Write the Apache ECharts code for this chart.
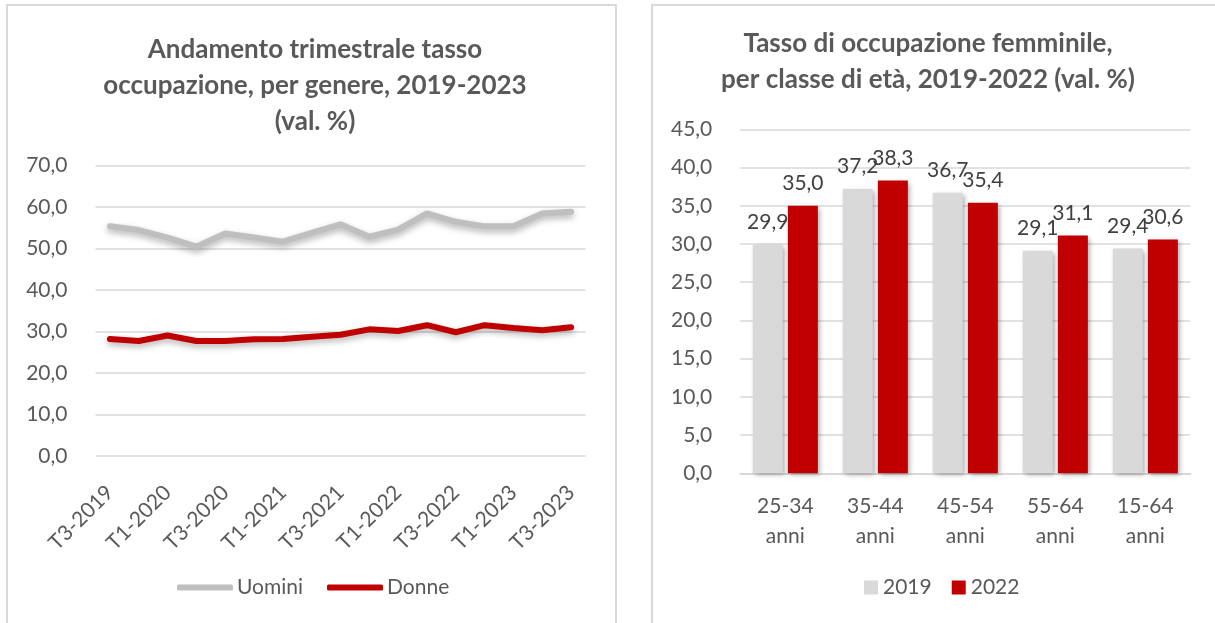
<!DOCTYPE html>
<html>
<head>
<meta charset="utf-8">
<script src="https://cdn.jsdelivr.net/npm/echarts@6/dist/echarts.min.js"></script>
<style>
  html, body { margin: 0; padding: 0; background: #fff; width: 1215px; height: 623px; overflow: hidden; }
  .panel { position: absolute; border: 2px solid #d9d9d9; background: #fff; }
  #left { left: 6px; top: 4px; width: 607px; height: 640px; }
  #right { left: 651px; top: 4px; width: 600px; height: 640px; }
</style>
</head>
<body>
<div id="left" class="panel"></div>
<div id="right" class="panel"></div>
<script>
// ---- Left chart data ----
const quarters = ['T3-2019','T4-2019','T1-2020','T2-2020','T3-2020','T4-2020','T1-2021','T2-2021','T3-2021','T4-2021','T1-2022','T2-2022','T3-2022','T4-2022','T1-2023','T2-2023','T3-2023'];
const uomini = [55.3, 54.4, 52.6, 50.4, 53.6, 52.6, 51.6, 53.7, 55.8, 52.8, 54.5, 58.4, 56.4, 55.3, 55.3, 58.4, 58.8];
const donne  = [28.2, 27.7, 29.0, 27.7, 27.7, 28.1, 28.2, 28.7, 29.2, 30.5, 30.1, 31.5, 29.8, 31.5, 30.8, 30.3, 31.0];
const leftTitle = 'Andamento trimestrale tasso\noccupazione, per genere, 2019-2023\n(val. %)';

// ---- Right chart data ----
const ageClasses = ['25-34\nanni', '35-44\nanni', '45-54\nanni', '55-64\nanni', '15-64\nanni'];
const val2019 = [29.9, 37.2, 36.7, 29.1, 29.4];
const val2022 = [35.0, 38.3, 35.4, 31.1, 30.6];
const rightTitle = 'Tasso di occupazione femminile,\nper classe di età, 2019-2022 (val. %)';

const FONT = 'Lato, "Liberation Sans", sans-serif';
const TXT = '#595959';
const FS = 21;
const fmt = v => Number(v).toFixed(1).replace('.', ',');

const left = echarts.init(document.getElementById('left'), null, { renderer: 'canvas' });
left.setOption({
  animation: false,
  textStyle: { fontFamily: FONT },
  title: {
    text: leftTitle, left: 302, top: 21, textAlign: 'center',
    textStyle: { fontFamily: FONT, fontWeight: 'bold', fontSize: 26, color: TXT, lineHeight: 36 }
  },
  legend: {
    bottom: 43, left: 164, itemWidth: 56, itemHeight: 6, itemGap: 24, icon: 'roundRect',
    textStyle: { fontFamily: FONT, fontSize: FS, color: TXT, padding: [0, 0, 0, -1] },
    data: ['Uomini', 'Donne']
  },
  grid: { left: 87.5, top: 159.3, width: 490, height: 290.7, containLabel: false },
  xAxis: {
    type: 'category', data: quarters, boundaryGap: true,
    axisLine: { show: false }, axisTick: { show: false },
    axisLabel: { interval: 1, rotate: 45, fontFamily: FONT, fontSize: FS, color: TXT, margin: 33 }
  },
  yAxis: {
    type: 'value', min: 0, max: 70, interval: 10,
    axisLine: { show: false }, axisTick: { show: false },
    splitLine: { lineStyle: { color: '#d9d9d9', width: 1.5 } },
    axisLabel: { formatter: fmt, fontFamily: FONT, fontSize: FS, color: TXT, margin: 28 }
  },
  series: [
    { name: 'Uomini', type: 'line', data: uomini, symbol: 'none', color: '#bfbfbf',
      lineStyle: { width: 6, color: '#bfbfbf', cap: 'round', join: 'round', shadowColor: 'rgba(0,0,0,0.3)', shadowBlur: 6, shadowOffsetY: 3 } },
    { name: 'Donne', type: 'line', data: donne, symbol: 'none', color: '#c00000',
      lineStyle: { width: 6, color: '#c00000', cap: 'round', join: 'round', shadowColor: 'rgba(0,0,0,0.3)', shadowBlur: 6, shadowOffsetY: 3 } }
  ]
});

const right = echarts.init(document.getElementById('right'), null, { renderer: 'canvas' });
right.setOption({
  animation: false,
  textStyle: { fontFamily: FONT },
  title: {
    text: rightTitle, left: 270, top: 15, textAlign: 'center',
    textStyle: { fontFamily: FONT, fontWeight: 'bold', fontSize: 26, color: TXT, lineHeight: 36 }
  },
  legend: {
    bottom: 43, left: 206, itemWidth: 14, itemHeight: 14, itemGap: 20, icon: 'rect',
    textStyle: { fontFamily: FONT, fontSize: FS, color: TXT },
    data: ['2019', '2022']
  },
  grid: { left: 87.3, top: 123.3, width: 450, height: 344, containLabel: false },
  xAxis: {
    type: 'category', data: ageClasses,
    axisLine: { lineStyle: { color: '#d9d9d9', width: 2 } }, axisTick: { show: false },
    axisLabel: { fontFamily: FONT, fontSize: FS, color: TXT, lineHeight: 30, margin: 18 }
  },
  yAxis: {
    type: 'value', min: 0, max: 45, interval: 5,
    axisLine: { show: false }, axisTick: { show: false },
    splitLine: { lineStyle: { color: '#d9d9d9', width: 1.5 } },
    axisLabel: { formatter: fmt, fontFamily: FONT, fontSize: FS, color: TXT, margin: 28 }
  },
  series: [
    { name: '2019', type: 'bar', data: val2019, barWidth: 30, barGap: '17%', color: '#d9d9d9',
      itemStyle: { color: '#d9d9d9', shadowColor: 'rgba(0,0,0,0.35)', shadowBlur: 5, shadowOffsetX: 2, shadowOffsetY: 2 },
      label: { show: true, position: 'top', distance: 12, formatter: p => fmt(p.value), fontFamily: FONT, fontSize: FS, color: '#404040' } },
    { name: '2022', type: 'bar', data: val2022, barWidth: 30, color: '#c00000',
      itemStyle: { color: '#c00000', shadowColor: 'rgba(0,0,0,0.35)', shadowBlur: 5, shadowOffsetX: 2, shadowOffsetY: 2 },
      label: { show: true, position: 'top', distance: 12, formatter: p => fmt(p.value), fontFamily: FONT, fontSize: FS, color: '#404040' } }
  ]
});
</script>
</body>
</html>
